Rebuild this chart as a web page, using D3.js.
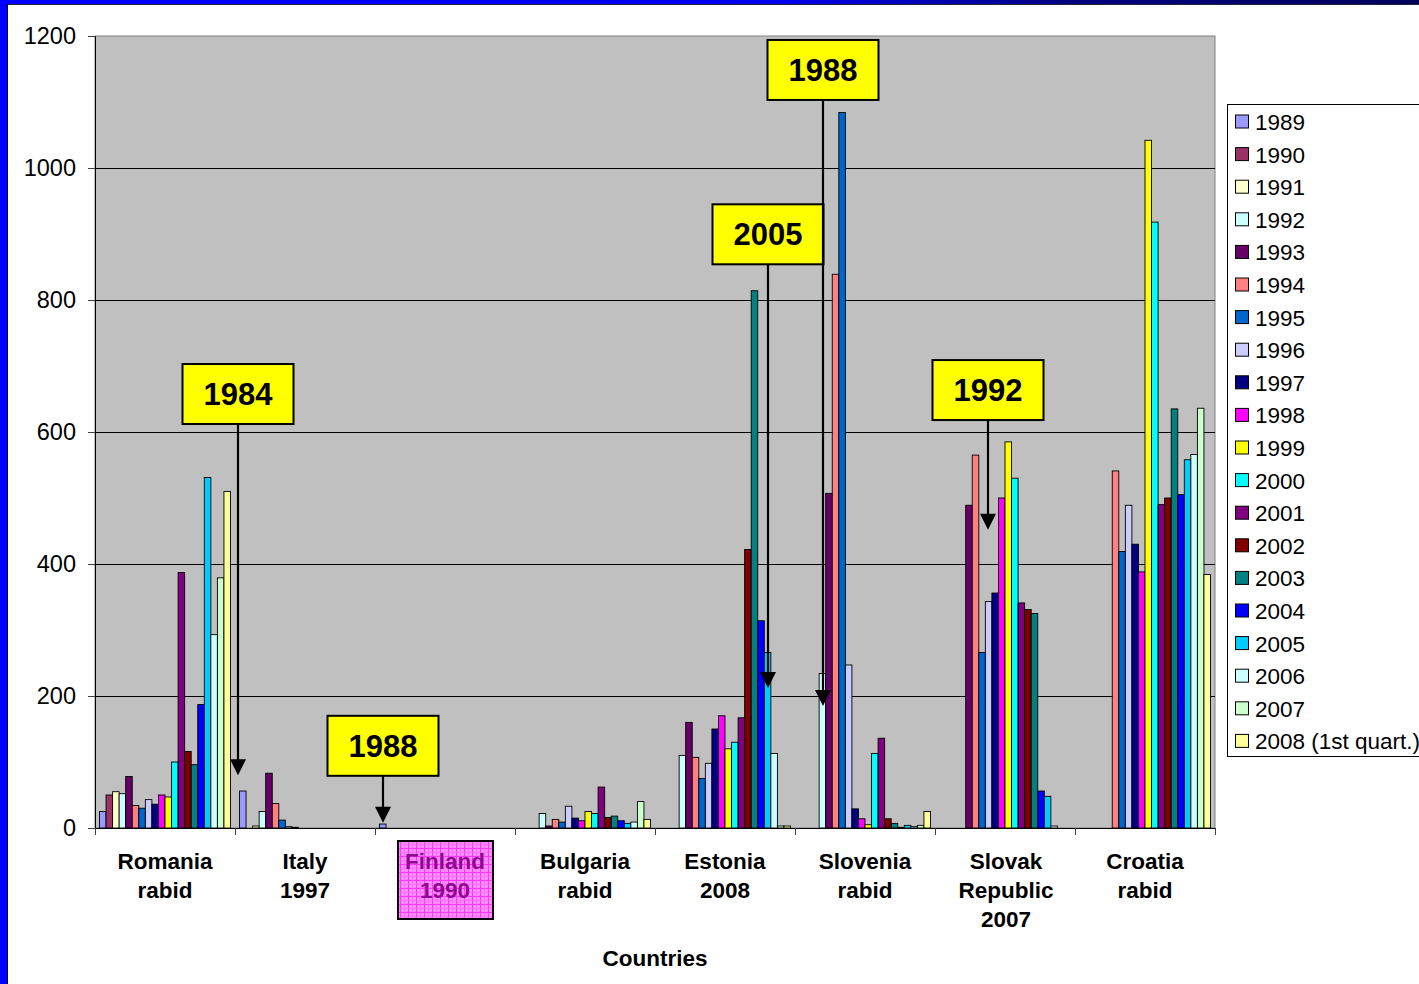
<!DOCTYPE html>
<html>
<head>
<meta charset="utf-8">
<script src="https://cdn.jsdelivr.net/npm/d3@7"></script>
<style>
  html, body { margin: 0; padding: 0; background: #ffffff; }
  svg { display: block; }
  text { font-family: "Liberation Sans", Arial, sans-serif; }
</style>
</head>
<body>
<svg id="chart" width="1419" height="984"></svg>
<script>
// Countries (two- or three-line axis labels)
const categories = [
  "Romania\nrabid", "Italy\n1997", "Finland\n1990", "Bulgaria\nrabid",
  "Estonia\n2008", "Slovenia\nrabid", "Slovak\nRepublic\n2007", "Croatia\nrabid"
];

const years = ["1989", "1990", "1991", "1992", "1993", "1994", "1995", "1996", "1997", "1998",
  "1999", "2000", "2001", "2002", "2003", "2004", "2005", "2006", "2007", "2008 (1st quart.)"];

const colors = ["#9999FF", "#993366", "#FFFFCC", "#CCFFFF", "#660066", "#FF8080", "#0066CC", "#CCCCFF",
  "#000080", "#FF00FF", "#FFFF00", "#00FFFF", "#800080", "#800000", "#008080", "#0000FF",
  "#00CCFF", "#CCFFFF", "#CCFFCC", "#FFFF99"];

// Cases per year, one array per country, 1989 … 2008
const romania  = [25, 50, 55, 52, 78, 34, 30, 43, 36, 50, 47, 100, 387, 116, 96, 187, 531, 293, 379, 510];
const italy    = [56, 0, 3, 25, 83, 37, 12, 2, 1, 0, 0, 0, 0, 0, 0, 0, 0, 0, 0, 0];
const finland  = [6, 0, 0, 0, 0, 0, 0, 0, 0, 0, 0, 0, 0, 0, 0, 0, 0, 0, 0, 0];
const bulgaria = [0, 0, 0, 22, 3, 13, 9, 33, 15, 11, 25, 22, 62, 16, 18, 11, 7, 9, 40, 13];
const estonia  = [0, 0, 0, 110, 160, 107, 75, 98, 150, 170, 120, 130, 167, 422, 814, 314, 266, 113, 3, 3];
const slovenia = [0, 0, 0, 234, 507, 839, 1084, 247, 29, 14, 5, 113, 136, 14, 7, 1, 4, 2, 4, 25];
const slovakia = [0, 0, 0, 0, 489, 565, 266, 343, 356, 500, 585, 530, 341, 331, 325, 56, 48, 3, 0, 0];
const croatia  = [0, 0, 0, 0, 0, 541, 419, 489, 430, 388, 1042, 918, 490, 500, 635, 505, 558, 566, 636, 384];

const seriesByCountry = [romania, italy, finland, bulgaria, estonia, slovenia, slovakia, croatia];

const yTicks = [0, 200, 400, 600, 800, 1000, 1200];

// Callouts: text, country the arrow sits in, horizontal fraction of that band,
// box top and arrow tip in data units
const callouts = [
  { label: "1984", cat: 0, frac: 1.02, top: 703, tip: 80 },
  { label: "1988", cat: 2, frac: 0.06, top: 170, tip: 8 },
  { label: "2005", cat: 4, frac: 0.81, top: 945, tip: 212 },
  { label: "1988", cat: 5, frac: 0.20, top: 1194, tip: 185 },
  { label: "1992", cat: 6, frac: 0.38, top: 709, tip: 452 }
];

const svg = d3.select("#chart");
const W = 1419, H = 984;
const plot = { left: 95, right: 1215, top: 36, bottom: 828 };

const defs = svg.append("defs");

// Frame: blue stripe on the left and along the top
const topGrad = defs.append("linearGradient").attr("id", "topGrad").attr("x1", 0).attr("x2", 1);
topGrad.append("stop").attr("offset", "0%").attr("stop-color", "#0000FF");
topGrad.append("stop").attr("offset", "55%").attr("stop-color", "#0000EE");
topGrad.append("stop").attr("offset", "75%").attr("stop-color", "#000080");
topGrad.append("stop").attr("offset", "100%").attr("stop-color", "#00005A");

svg.append("rect").attr("x", 0).attr("y", 0).attr("width", W).attr("height", H).attr("fill", "#ffffff");
svg.append("rect").attr("x", 0).attr("y", 0).attr("width", W).attr("height", 4).attr("fill", "url(#topGrad)");
svg.append("line").attr("x1", 8).attr("x2", W).attr("y1", 4.5).attr("y2", 4.5).attr("stroke", "#222244").attr("stroke-width", 1);
svg.append("rect").attr("x", 0).attr("y", 0).attr("width", 7).attr("height", H).attr("fill", "#0000FF");
svg.append("line").attr("x1", 7.5).attr("x2", 7.5).attr("y1", 4).attr("y2", H).attr("stroke", "#000044").attr("stroke-width", 1);

// Scales
const x0 = d3.scaleBand().domain(d3.range(categories.length)).range([plot.left, plot.right]).padding(0);
const x1 = d3.scaleBand().domain(d3.range(years.length)).range([4.5, x0.bandwidth() - 4.5]).padding(0);
const y = d3.scaleLinear().domain([0, 1200]).range([plot.bottom, plot.top]);

// Plot area
svg.append("rect")
  .attr("x", plot.left).attr("y", plot.top)
  .attr("width", plot.right - plot.left).attr("height", plot.bottom - plot.top)
  .attr("fill", "#C0C0C0").attr("stroke", "#808080").attr("stroke-width", 1);

// Gridlines
svg.append("g").selectAll("line")
  .data(yTicks.filter(d => d > 0 && d < 1200))
  .join("line")
  .attr("x1", plot.left).attr("x2", plot.right)
  .attr("y1", d => Math.round(y(d)) + 0.5).attr("y2", d => Math.round(y(d)) + 0.5)
  .attr("stroke", "#000000").attr("stroke-width", 1);

// Bars
const groups = svg.append("g").selectAll("g")
  .data(seriesByCountry)
  .join("g")
  .attr("transform", (d, i) => `translate(${x0(i)},0)`);

groups.selectAll("rect")
  .data(d => d.map((v, j) => ({ v, j })).filter(e => e.v > 0))
  .join("rect")
  .attr("x", e => x1(e.j))
  .attr("width", x1.bandwidth())
  .attr("y", e => y(e.v))
  .attr("height", e => y(0) - y(e.v))
  .attr("fill", e => colors[e.j])
  .attr("stroke", "#000000")
  .attr("stroke-width", 0.9);

// Y axis
const yAxis = d3.axisLeft(y).tickValues(yTicks).tickSize(7).tickPadding(12).tickFormat(d3.format("d"));
const gy = svg.append("g").attr("transform", `translate(${plot.left},0)`).call(yAxis);
gy.select(".domain").attr("stroke", "#000000");
gy.selectAll(".tick line").attr("stroke", "#404040");
gy.selectAll(".tick text").attr("font-size", 23.5).attr("fill", "#000000")
  .style("font-family", "'Liberation Sans', Arial, sans-serif");

// X axis: baseline and boundary ticks
svg.append("line").attr("x1", plot.left).attr("x2", plot.right)
  .attr("y1", plot.bottom + 0.5).attr("y2", plot.bottom + 0.5).attr("stroke", "#000000");
svg.append("g").selectAll("line")
  .data(d3.range(categories.length + 1))
  .join("line")
  .attr("x1", i => (i < categories.length ? x0(i) : plot.right) + 0.5)
  .attr("x2", i => (i < categories.length ? x0(i) : plot.right) + 0.5)
  .attr("y1", plot.bottom).attr("y2", plot.bottom + 7)
  .attr("stroke", "#404040");

// Hatched pink background behind the Finland label
const pat = defs.append("pattern").attr("id", "pinkGrid").attr("patternUnits", "userSpaceOnUse")
  .attr("width", 8).attr("height", 8);
pat.append("rect").attr("width", 8).attr("height", 8).attr("fill", "#FF8CFF");
pat.append("path").attr("d", "M0,0.5H8M0.5,0V8").attr("stroke", "#FF33FF").attr("stroke-width", 1);
pat.append("path").attr("d", "M0,4.5H8M4.5,0V8").attr("stroke", "#FF66FF").attr("stroke-width", 0.6);

const finIdx = 2;
const finCx = x0(finIdx) + x0.bandwidth() / 2;
svg.append("rect")
  .attr("x", finCx - 47).attr("y", 841).attr("width", 95).attr("height", 78)
  .attr("fill", "url(#pinkGrid)").attr("stroke", "#000000").attr("stroke-width", 2);

// Category labels
const xl = svg.append("g").selectAll("text")
  .data(categories)
  .join("text")
  .attr("x", (d, i) => x0(i) + x0.bandwidth() / 2 + (i === 6 ? 1 : 0))
  .attr("y", 869)
  .attr("text-anchor", "middle")
  .attr("font-size", 22.5)
  .attr("font-weight", "bold")
  .attr("fill", (d, i) => i === finIdx ? "#850085" : "#000000")
  .attr("fill-opacity", (d, i) => i === finIdx ? 0.95 : 1);
xl.selectAll("tspan")
  .data(d => d.split("\n"))
  .join("tspan")
  .attr("x", function () { return d3.select(this.parentNode).attr("x"); })
  .attr("dy", (d, k) => k === 0 ? 0 : 29)
  .text(d => d);

// Axis title
svg.append("text")
  .attr("x", (plot.left + plot.right) / 2).attr("y", 966)
  .attr("text-anchor", "middle").attr("font-size", 22.5).attr("font-weight", "bold")
  .text("Countries");

// Callouts with arrows
const boxW = 111, boxH = 60;
const cg = svg.append("g").selectAll("g").data(callouts).join("g");
cg.each(function (c) {
  const g = d3.select(this);
  const cx = Math.round(x0(c.cat) + c.frac * x0.bandwidth());
  const top = y(c.top);
  const tip = y(c.tip);
  g.append("line")
    .attr("x1", cx).attr("x2", cx)
    .attr("y1", top + boxH).attr("y2", tip - 8)
    .attr("stroke", "#000000").attr("stroke-width", 2.2);
  g.append("path")
    .attr("d", `M${cx - 8},${tip - 16}L${cx + 8},${tip - 16}L${cx},${tip}Z`)
    .attr("fill", "#000000");
  g.append("rect")
    .attr("x", cx - boxW / 2).attr("y", top).attr("width", boxW).attr("height", boxH)
    .attr("fill", "#FFFF00").attr("stroke", "#000000").attr("stroke-width", 2);
  g.append("text")
    .attr("x", cx).attr("y", top + boxH / 2 + 11)
    .attr("text-anchor", "middle").attr("font-size", 31).attr("font-weight", "bold")
    .text(c.label);
});

// Legend
const legend = svg.append("g");
legend.append("rect")
  .attr("x", 1227.5).attr("y", 104.5).attr("width", 200).attr("height", 652)
  .attr("fill", "#ffffff").attr("stroke", "#000000").attr("stroke-width", 1);
const li = legend.selectAll("g").data(years).join("g")
  .attr("transform", (d, i) => `translate(1235,${121.5 + i * 32.6})`);
li.append("rect")
  .attr("x", 0.5).attr("y", -6.5).attr("width", 13).attr("height", 13)
  .attr("fill", (d, i) => colors[i]).attr("stroke", "#000000").attr("stroke-width", 1);
li.append("text")
  .attr("x", 20).attr("y", 8.5)
  .attr("font-size", 22.5)
  .text(d => d);
</script>
</body>
</html>
